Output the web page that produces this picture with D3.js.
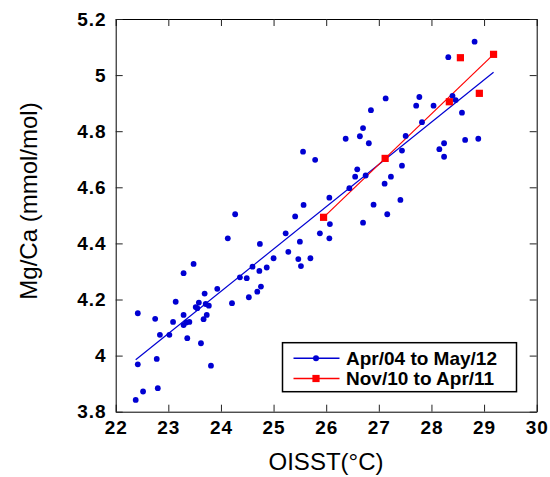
<!DOCTYPE html>
<html>
<head>
<meta charset="utf-8">
<script src="https://cdn.jsdelivr.net/npm/d3@7"></script>
<style>
  body { margin: 0; background: #fff; }
  svg text { font-family: "Liberation Sans", Arial, sans-serif; }
</style>
</head>
<body>
<div id="chart"></div>
<script>
'use strict';

// Apr/04 to May/12 series (OISST, Mg/Ca)
const sstA = [22.42, 22.75, 23.14, 23.29, 23.48, 23.29, 23.09, 23.29, 23.34, 23.40,
  22.84, 23.02, 23.36, 23.62, 23.81, 22.78, 22.42, 22.52, 22.80, 22.38,
  23.52, 23.58, 23.55, 23.67, 23.73, 23.69, 23.77, 23.71, 23.93, 24.13,
  24.21, 24.36, 24.49, 24.53, 24.69, 24.76, 24.73, 24.60, 24.87, 24.74,
  25.00, 25.23, 25.28, 25.50, 25.47, 25.52, 25.70, 25.88, 26.07, 26.06,
  26.70, 25.56, 25.79, 25.57, 25.41, 24.27, 26.06, 26.44, 26.55, 26.59,
  26.75, 26.37, 26.64, 26.70, 26.81, 26.85, 27.13, 26.90, 27.16, 27.11,
  27.23, 27.41, 27.44, 27.44, 27.51, 27.82, 27.71, 27.77, 28.04, 28.15,
  28.24, 28.24, 28.40, 28.46, 28.58, 28.64, 28.89, 28.32, 28.82];
const mgcaA = [4.151, 4.131, 4.192, 4.294, 4.327, 4.145, 4.120, 4.109, 4.118, 4.120,
  4.074, 4.074, 4.062, 4.044, 3.964, 3.988, 3.969, 3.872, 3.884, 3.842,
  4.173, 4.189, 4.169, 4.130, 4.145, 4.221, 4.178, 4.184, 4.238, 4.418,
  4.187, 4.279, 4.276, 4.208, 4.228, 4.246, 4.302, 4.317, 4.314, 4.398,
  4.347, 4.436, 4.370, 4.406, 4.344, 4.319, 4.347, 4.436, 4.469, 4.418,
  4.474, 4.727, 4.698, 4.537, 4.496, 4.504, 4.563, 4.597, 4.638, 4.664,
  4.642, 4.773, 4.782, 4.811, 4.757, 4.875, 4.917, 4.538, 4.504, 4.613,
  4.638, 4.555, 4.677, 4.731, 4.783, 4.832, 4.891, 4.922, 4.891, 4.736,
  4.757, 4.709, 4.926, 4.911, 4.866, 4.769, 4.773, 5.064, 5.119];

// Nov/10 to Apr/11 series
const sstB = [25.95, 27.12, 28.34, 28.91, 28.55, 29.18];
const mgcaB = [4.493, 4.703, 4.905, 4.935, 5.062, 5.074];

// fitted lines, end points
const fitA = [[22.38, 3.985], [29.18, 5.010]];
const fitB = [[25.95, 4.493], [29.18, 5.074]];

const xTicks = [22, 23, 24, 25, 26, 27, 28, 29, 30];
const yTicks = [3.8, 4, 4.2, 4.4, 4.6, 4.8, 5, 5.2];
const legendLabels = ['Apr/04 to May/12', 'Nov/10 to Apr/11'];

const W = 550, H = 477;
const margin = { top: 19, right: 13.3, bottom: 65.3, left: 115.7 };
const width = W - margin.left - margin.right;
const height = H - margin.top - margin.bottom;
const blue = '#0000d2', red = '#ff0000';

const svg = d3.select('#chart').append('svg')
  .attr('width', W)
  .attr('height', H);

const g = svg.append('g')
  .attr('transform', `translate(${margin.left},${margin.top})`);

const x = d3.scaleLinear().domain([22, 30]).range([0, width]);
const y = d3.scaleLinear().domain([3.8, 5.2]).range([height, 0]);

// axes, ticks pointing inward on all sides
const styleAxis = sel => {
  sel.select('.domain').attr('stroke', '#000');
  sel.selectAll('.tick line').attr('stroke', '#222');
  sel.selectAll('.tick text')
    .attr('fill', '#000')
    .style('font-size', '19px')
    .style('font-weight', 'bold')
    .style('letter-spacing', '1px');
};

g.append('g')
  .attr('transform', `translate(0,${height})`)
  .call(d3.axisBottom(x).tickValues(xTicks).tickSize(-7).tickPadding(9).tickSizeOuter(0))
  .call(styleAxis);

g.append('g')
  .call(d3.axisTop(x).tickValues(xTicks).tickSize(-7).tickFormat('').tickSizeOuter(0))
  .call(styleAxis);

g.append('g')
  .call(d3.axisLeft(y).tickValues(yTicks).tickSize(-7).tickPadding(9).tickSizeOuter(0)
    .tickFormat(d => String(+d.toFixed(1))))
  .call(styleAxis);

g.append('g')
  .attr('transform', `translate(${width},0)`)
  .call(d3.axisRight(y).tickValues(yTicks).tickSize(-7).tickFormat('').tickSizeOuter(0))
  .call(styleAxis);

// fitted lines
const line = d3.line().x(d => x(d[0])).y(d => y(d[1]));
g.append('path').datum(fitA)
  .attr('d', line).attr('fill', 'none').attr('stroke', blue).attr('stroke-width', 1.2);
g.append('path').datum(fitB)
  .attr('d', line).attr('fill', 'none').attr('stroke', red).attr('stroke-width', 1.2);

// points
const ptsA = sstA.map((v, i) => ({ sst: v, mgca: mgcaA[i] }));
const ptsB = sstB.map((v, i) => ({ sst: v, mgca: mgcaB[i] }));

g.selectAll('.dotA')
  .data(ptsA)
  .join('circle')
  .attr('class', 'dotA')
  .attr('cx', d => x(d.sst))
  .attr('cy', d => y(d.mgca))
  .attr('r', 2.9)
  .attr('fill', blue);

g.selectAll('.sqB')
  .data(ptsB)
  .join('rect')
  .attr('class', 'sqB')
  .attr('x', d => x(d.sst) - 3.6)
  .attr('y', d => y(d.mgca) - 3.6)
  .attr('width', 7.2)
  .attr('height', 7.2)
  .attr('fill', red);

// legend
const lg = svg.append('g').attr('transform', 'translate(282.5,342.7)');
lg.append('rect')
  .attr('width', 234).attr('height', 49)
  .attr('fill', '#fff').attr('stroke', '#000').attr('stroke-width', 1.5);

const rows = [
  { label: legendLabels[0], color: blue, shape: 'dot', y: 15.5 },
  { label: legendLabels[1], color: red, shape: 'sq', y: 35.8 }
];
rows.forEach(r => {
  lg.append('line')
    .attr('x1', 11).attr('x2', 57).attr('y1', r.y).attr('y2', r.y)
    .attr('stroke', r.color).attr('stroke-width', 1.5);
  if (r.shape === 'dot') {
    lg.append('circle').attr('cx', 33.5).attr('cy', r.y).attr('r', 3).attr('fill', r.color);
  } else {
    lg.append('rect').attr('x', 29.9).attr('y', r.y - 3.6)
      .attr('width', 7.2).attr('height', 7.2).attr('fill', r.color);
  }
  lg.append('text')
    .attr('x', 63.5).attr('y', r.y).attr('dy', '0.36em')
    .style('font-size', '19px').style('font-weight', 'bold')
    .text(r.label);
});

// axis titles
svg.append('text')
  .attr('x', 326).attr('y', 470)
  .attr('text-anchor', 'middle')
  .style('font-size', '24px')
  .text('OISST(°C)');

svg.append('text')
  .attr('transform', 'translate(36.5,201) rotate(-90)')
  .attr('text-anchor', 'middle')
  .style('font-size', '24px')
  .text('Mg/Ca (mmol/mol)');
</script>
</body>
</html>
